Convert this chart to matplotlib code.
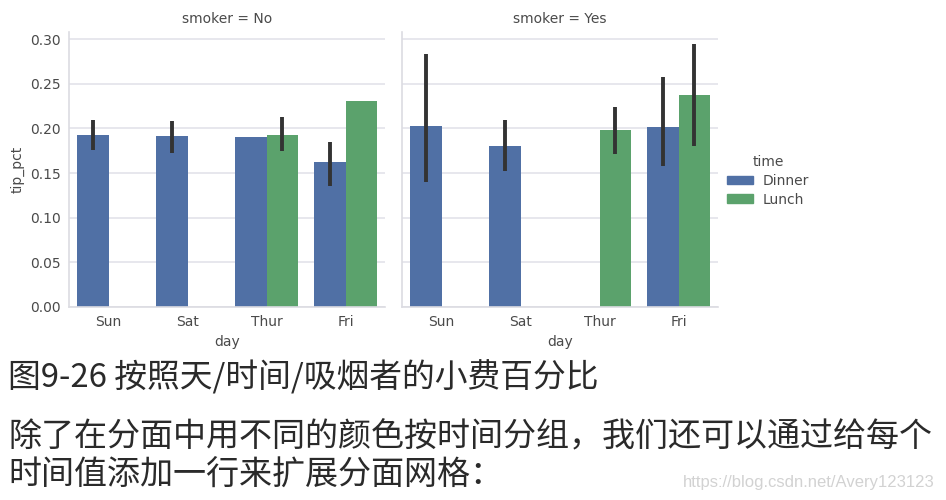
import numpy as np
import matplotlib
matplotlib.use("Agg")
import matplotlib.pyplot as plt
from matplotlib.patches import Patch

days = ["Sun", "Sat", "Thur", "Fri"]
times = ["Dinner", "Lunch"]

# smoker = No : mean tip_pct and CI ends (nan = no bar / no error bar)
no_dinner = [0.193, 0.191, 0.190, 0.162]
no_dinner_lo = [0.176, 0.173, np.nan, 0.135]
no_dinner_hi = [0.210, 0.208, np.nan, 0.185]
no_lunch = [np.nan, np.nan, 0.193, 0.231]
no_lunch_lo = [np.nan, np.nan, 0.175, np.nan]
no_lunch_hi = [np.nan, np.nan, 0.213, np.nan]

# smoker = Yes
yes_dinner = [0.203, 0.180, np.nan, 0.202]
yes_dinner_lo = [0.140, 0.152, np.nan, 0.158]
yes_dinner_hi = [0.283, 0.209, np.nan, 0.258]
yes_lunch = [np.nan, np.nan, 0.198, 0.237]
yes_lunch_lo = [np.nan, np.nan, 0.171, 0.180]
yes_lunch_hi = [np.nan, np.nan, 0.224, 0.295]

caption = "图9-26 按照天/时间/吸烟者的小费百分比"
body1 = "除了在分面中用不同的颜色按时间分组，我们还可以通过给每个"
body2 = "时间值添加一行来扩展分面网格："
watermark = "https://blog.csdn.net/Avery123123"

blue = "#5070a5"
green = "#5ba26c"
text_col = "#4a4a4a"
grid_col = "#e3e3ea"

W, H = 946, 500
fig = plt.figure(figsize=(W / 100, H / 100), dpi=100)
plt.rcParams["font.family"] = ["DejaVu Sans"]


def facet(rect, title, series, show_y):
    ax = fig.add_axes(rect)
    x = np.arange(len(days))
    for (vals, lo, hi, col), off in zip(series, (-0.2, 0.2)):
        vals = np.array(vals, dtype=float)
        ax.bar(x + off, np.nan_to_num(vals), width=0.4, color=col,
               linewidth=0, zorder=2)
        for xi, l, h in zip(x + off, lo, hi):
            if not np.isnan(l):
                ax.plot([xi, xi], [l, h], color="#333333", lw=2.8,
                        solid_capstyle="butt", zorder=3)
    ax.set_xlim(-0.5, 3.5)
    ax.set_ylim(0, 0.308)
    ax.set_yticks([0, 0.05, 0.10, 0.15, 0.20, 0.25, 0.30])
    ax.set_xticks(x)
    ax.set_xticklabels(days)
    ax.yaxis.grid(True, color=grid_col, lw=1.2, zorder=0)
    ax.set_axisbelow(True)
    for s in ("top", "right"):
        ax.spines[s].set_visible(False)
    for s in ("left", "bottom"):
        ax.spines[s].set_color("#dcdce2")
        ax.spines[s].set_linewidth(1.2)
    ax.tick_params(length=0, labelsize=10, colors=text_col, pad=6)
    if show_y:
        ax.set_yticklabels(["0.00", "0.05", "0.10", "0.15", "0.20", "0.25", "0.30"])
        ax.set_ylabel("tip_pct", fontsize=10, color=text_col, labelpad=4)
    else:
        ax.set_yticklabels([])
    ax.set_xlabel("day", fontsize=10, color=text_col, labelpad=4)
    ax.set_title(title, fontsize=10, color=text_col, pad=6.5)
    return ax


ax1 = facet([69 / W, 1 - 307 / H, 316 / W, 275 / H], "smoker = No",
            [(no_dinner, no_dinner_lo, no_dinner_hi, blue),
             (no_lunch, no_lunch_lo, no_lunch_hi, green)], True)
ax2 = facet([402 / W, 1 - 307 / H, 316 / W, 275 / H], "smoker = Yes",
            [(yes_dinner, yes_dinner_lo, yes_dinner_hi, blue),
             (yes_lunch, yes_lunch_lo, yes_lunch_hi, green)], False)

handles = [Patch(color=blue, label=times[0]), Patch(color=green, label=times[1])]
leg = fig.legend(handles=handles, title="time", loc="upper left",
                 bbox_to_anchor=(727 / W, 1 - 155 / H), frameon=False,
                 fontsize=10, title_fontsize=10, handlelength=1.9,
                 handleheight=0.6, handletextpad=0.7, labelspacing=0.35,
                 borderpad=0, borderaxespad=0)
for t in leg.get_texts():
    t.set_color(text_col)
leg.get_title().set_color(text_col)

cjk = ["Noto Sans CJK SC", "DejaVu Sans"]
fig.text(8 / W, 1 - 377 / H, caption, fontsize=23.6, family=cjk,
         weight="light", color="#2a2a2a", va="center", ha="left")
fig.text(8 / W, 1 - 436 / H, body1, fontsize=23.8, family=cjk,
         weight="light", color="#2a2a2a", va="center", ha="left")
fig.text(8 / W, 1 - 474 / H, body2, fontsize=23.8, family=cjk,
         weight="light", color="#2a2a2a", va="center", ha="left")
fig.text(935 / W, 1 - 482 / H, watermark, fontsize=12,
         family=["Liberation Sans Narrow", "Liberation Sans"],
         color="#d2d2d2", va="center", ha="right")

fig.savefig("out.png", dpi=100)
